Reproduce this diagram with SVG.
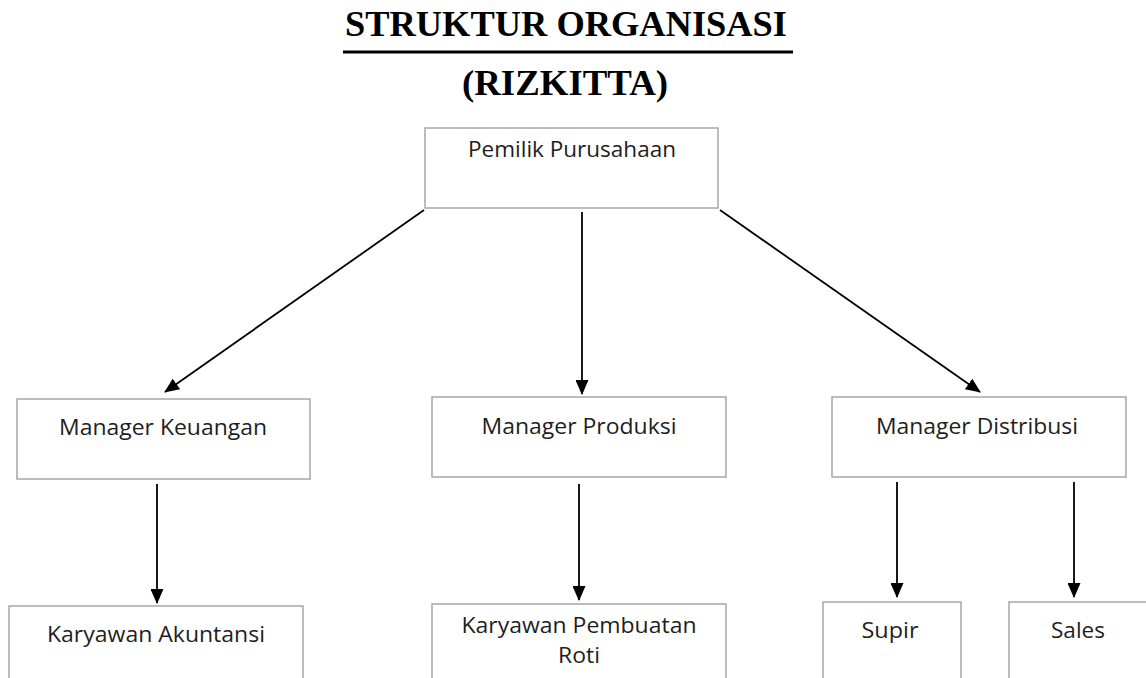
<svg xmlns="http://www.w3.org/2000/svg" width="1146" height="678" viewBox="0 0 1146 678">
<style>
.box{fill:#fff;stroke:#a6a6a6;stroke-width:1.5}
.lbl{font-family:"Open Sans","Liberation Sans",sans-serif;font-size:21px;fill:#1e1e1e;text-anchor:middle}
.title{font-family:"Liberation Serif","Times New Roman",serif;font-weight:bold;font-size:36px;fill:#000;text-anchor:middle}
.conn{stroke:#000;stroke-width:1.8;fill:none;marker-end:url(#ah)}
</style>
<defs>
<marker id="ah" markerUnits="userSpaceOnUse" markerWidth="15" markerHeight="13" refX="14" refY="6.5" orient="auto">
<path d="M0,0 L15,6.5 L0,13 Z" fill="#000"/>
</marker>
</defs>
<rect width="1146" height="678" fill="#fff"/>
<g id="title">
<text class="title" x="566" y="36" textLength="442" lengthAdjust="spacingAndGlyphs">STRUKTUR ORGANISASI</text>
<rect x="343" y="50.5" width="450" height="3" fill="#000"/>
<text class="title" x="565" y="95" textLength="206" lengthAdjust="spacingAndGlyphs">(RIZKITTA)</text>
</g>
<g id="connectors">
<line class="conn" x1="424" y1="210" x2="165" y2="392"/>
<line class="conn" x1="582" y1="212" x2="582" y2="394"/>
<line class="conn" x1="720" y1="210" x2="980" y2="392"/>
<line class="conn" x1="157" y1="484" x2="157" y2="603"/>
<line class="conn" x1="579" y1="484" x2="579" y2="600"/>
<line class="conn" x1="897" y1="482" x2="897" y2="597"/>
<line class="conn" x1="1074" y1="482" x2="1074" y2="597"/>
</g>
<g id="pemilik">
<rect class="box" x="425" y="128" width="293" height="80"/>
<text class="lbl" x="572" y="157" textLength="208" lengthAdjust="spacingAndGlyphs">Pemilik Purusahaan</text>
</g>
<g id="manager-keuangan">
<rect class="box" x="17" y="399" width="293" height="80"/>
<text class="lbl" x="163" y="435" textLength="208" lengthAdjust="spacingAndGlyphs">Manager Keuangan</text>
</g>
<g id="manager-produksi">
<rect class="box" x="432" y="397" width="294" height="80"/>
<text class="lbl" x="579" y="434" textLength="195" lengthAdjust="spacingAndGlyphs">Manager Produksi</text>
</g>
<g id="manager-distribusi">
<rect class="box" x="832" y="397" width="294" height="80"/>
<text class="lbl" x="977" y="434" textLength="202" lengthAdjust="spacingAndGlyphs">Manager Distribusi</text>
</g>
<g id="karyawan-akuntansi">
<rect class="box" x="9" y="606" width="294" height="90"/>
<text class="lbl" x="156" y="642" textLength="218" lengthAdjust="spacingAndGlyphs">Karyawan Akuntansi</text>
</g>
<g id="karyawan-pembuatan-roti">
<rect class="box" x="432" y="604" width="294" height="90"/>
<text class="lbl" x="579" y="633" textLength="235" lengthAdjust="spacingAndGlyphs">Karyawan Pembuatan</text>
<text class="lbl" x="579" y="663" textLength="42" lengthAdjust="spacingAndGlyphs">Roti</text>
</g>
<g id="supir">
<rect class="box" x="823" y="602" width="138" height="90"/>
<text class="lbl" x="890" y="638" textLength="57" lengthAdjust="spacingAndGlyphs">Supir</text>
</g>
<g id="sales">
<rect class="box" x="1009" y="602" width="150" height="90"/>
<text class="lbl" x="1078" y="638" textLength="54" lengthAdjust="spacingAndGlyphs">Sales</text>
</g>
</svg>
